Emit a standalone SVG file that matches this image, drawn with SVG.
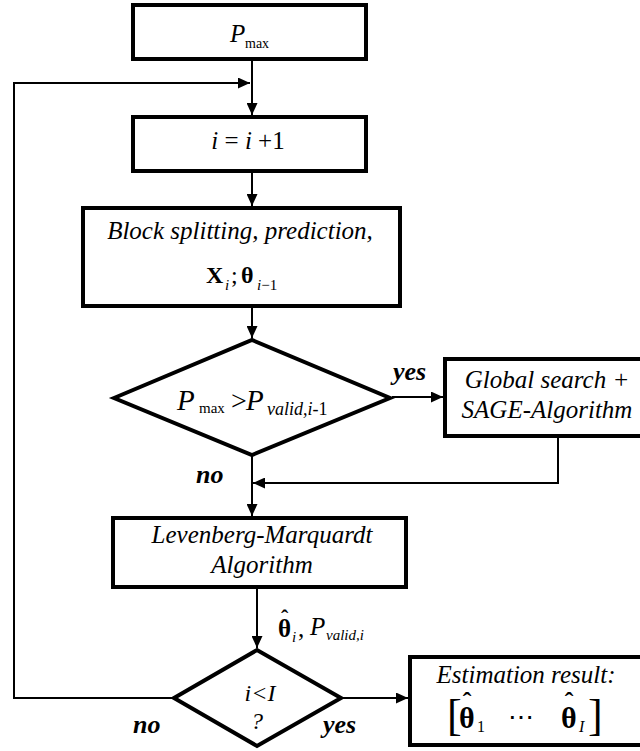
<svg xmlns="http://www.w3.org/2000/svg" width="640" height="751" viewBox="0 0 640 751" font-family="'Liberation Serif', 'Times New Roman', serif">
<style>
text{font-family:'Liberation Serif','Times New Roman',serif;fill:#000}
.box{fill:#fff;stroke:#000;stroke-width:4;stroke-linejoin:miter}
.con{fill:none;stroke:#000;stroke-width:2}
.it{font-style:italic;font-size:25px}
.lbl{font-style:italic;font-weight:bold;font-size:26px}
.b{font-weight:bold}
.i{font-style:italic}
</style>
<defs>
<marker id="ah" markerUnits="userSpaceOnUse" markerWidth="12" markerHeight="11" refX="12" refY="5.5" orient="auto">
<path d="M0,0 L12,5.5 L0,11 z" fill="#000"/>
</marker>
</defs>
<rect width="640" height="751" fill="#fff"/>

<g id="connectors">
<line class="con" x1="252" y1="61" x2="252" y2="115" marker-end="url(#ah)"/>
<polyline class="con" points="172,698 14,698 14,83 250,83" marker-end="url(#ah)"/>
<line class="con" x1="252" y1="173" x2="252" y2="206" marker-end="url(#ah)"/>
<line class="con" x1="252" y1="308" x2="252" y2="338" marker-end="url(#ah)"/>
<line class="con" x1="392" y1="397" x2="443" y2="397" marker-end="url(#ah)"/>
<polyline class="con" points="558,437 558,483 253,483" marker-end="url(#ah)"/>
<line class="con" x1="252" y1="456" x2="252" y2="516" marker-end="url(#ah)"/>
<line class="con" x1="257" y1="589" x2="257" y2="648" marker-end="url(#ah)"/>
<line class="con" x1="343" y1="698" x2="408" y2="698" marker-end="url(#ah)"/>
</g>

<g id="n_pmax">
<rect class="box" x="133" y="5" width="233" height="54"/>
<text x="230" y="42" class="it">P</text>
<text x="245" y="48" font-size="14">max</text>
</g>

<g id="n_incr">
<rect class="box" x="133" y="117" width="233" height="54"/>
<text x="248" y="149" font-size="25" text-anchor="middle"><tspan class="i">i</tspan> = <tspan class="i">i</tspan> +1</text>
</g>

<g id="n_block">
<rect class="box" x="83" y="208" width="317" height="98"/>
<text x="240" y="239" class="it" text-anchor="middle">Block splitting, prediction,</text>
<text x="206" y="283" font-size="24" class="b">X</text>
<text x="225" y="290" font-size="15" class="i">i</text>
<text x="231" y="283" font-size="24">;</text>
<text x="241" y="283" font-size="24" class="b">θ</text>
<text x="257" y="290" font-size="15"><tspan class="i">i</tspan>−1</text>
</g>

<g id="n_dec1">
<polygon class="box" points="114,398 252,340 390,398 252,455"/>
<text x="177" y="410" font-size="29" class="i">P</text>
<text x="199" y="413" font-size="15">max</text>
<text x="231" y="410" font-size="28">&gt;</text>
<text x="246" y="410" font-size="29" class="i">P</text>
<text x="267" y="415" font-size="18"><tspan class="i">valid,i</tspan>-1</text>
</g>

<g id="n_global">
<rect class="box" x="445" y="359" width="197" height="77"/>
<text x="547" y="388" class="it" text-anchor="middle">Global search +</text>
<text x="547" y="418" class="it" text-anchor="middle">SAGE-Algorithm</text>
</g>

<g id="n_lm">
<rect class="box" x="113" y="518" width="293" height="69"/>
<text x="262" y="543" class="it" text-anchor="middle">Levenberg-Marquardt</text>
<text x="262" y="573" class="it" text-anchor="middle">Algorithm</text>
</g>

<g id="n_dec2">
<polygon class="box" points="174,698 257,650 341,698 257,746"/>
<text x="260" y="701" font-size="24" font-style="italic" text-anchor="middle">i&lt;I</text>
<text x="257" y="729" font-size="24" font-style="italic" text-anchor="middle">?</text>
</g>

<g id="n_result">
<rect class="box" x="410" y="657" width="232" height="88"/>
<text x="526" y="683" class="it" text-anchor="middle">Estimation result:</text>
<text x="447" y="730" font-size="44">[</text>
<text x="459" y="728" font-size="30" class="b">θ<tspan dx="-12" dy="-18" font-size="26">ˆ</tspan></text>
<text x="477" y="732" font-size="16">1</text>
<text x="508" y="726" font-size="26">⋯</text>
<text x="561" y="728" font-size="30" class="b">θ<tspan dx="-12" dy="-18" font-size="26">ˆ</tspan></text>
<text x="579" y="732" font-size="16" class="i">I</text>
<text x="588" y="730" font-size="44">]</text>
</g>

<g id="labels">
<text x="393" y="380" class="lbl">yes</text>
<text x="196" y="483" class="lbl">no</text>
<text x="278" y="637" font-size="25" class="b">θ<tspan dx="-10" dy="-12" font-size="22">ˆ</tspan></text>
<text x="292" y="642" font-size="15" class="i">i</text>
<text x="298" y="637" font-size="25">,</text>
<text x="310" y="635" font-size="25" class="i">P</text>
<text x="326" y="640" font-size="15" class="i">valid,i</text>
<text x="133" y="733" class="lbl">no</text>
<text x="323" y="733" class="lbl">yes</text>
</g>
</svg>
